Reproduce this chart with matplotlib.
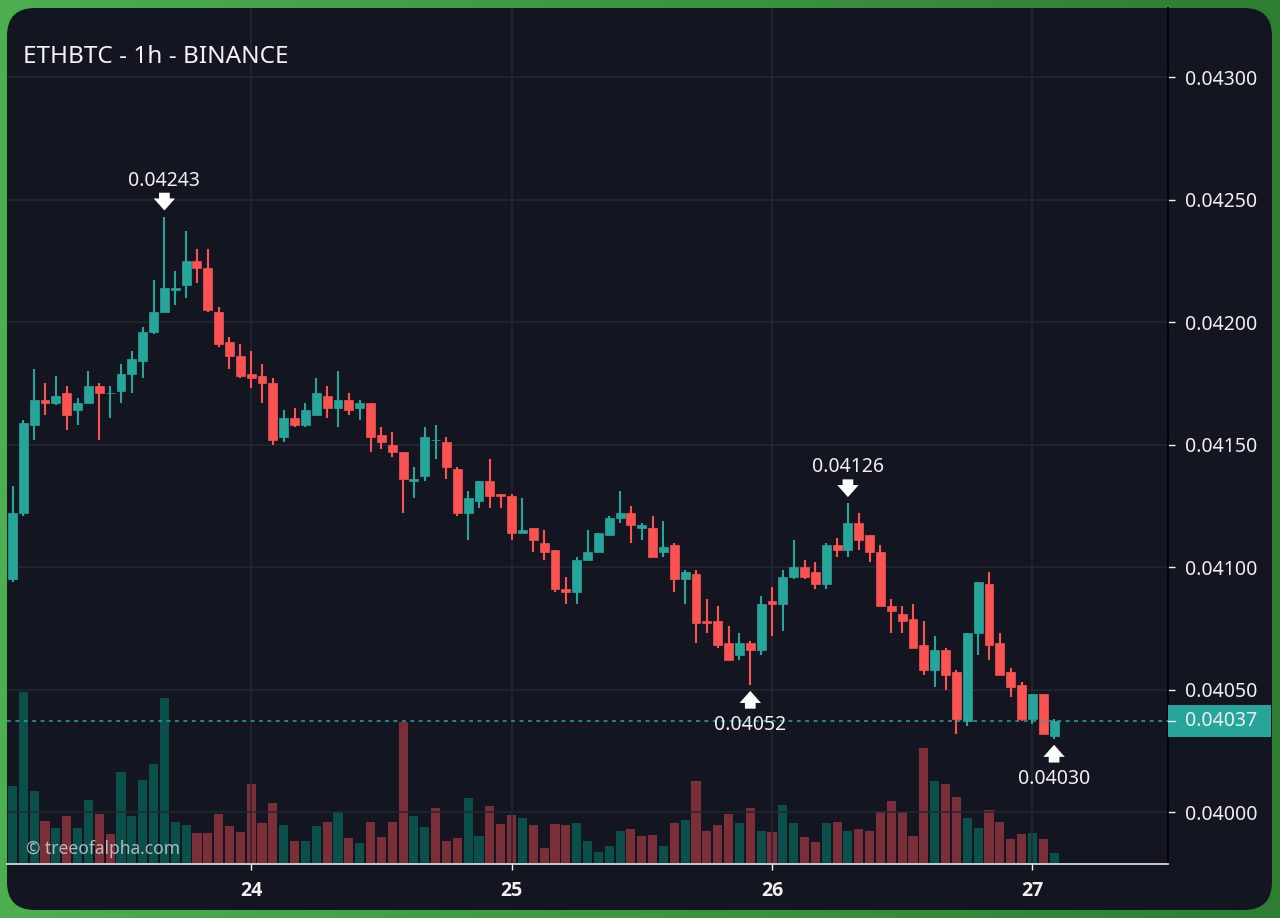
import matplotlib
matplotlib.use("Agg")
import matplotlib.pyplot as plt
import numpy as np
from matplotlib.patches import FancyBboxPatch, Rectangle

plt.rcParams['font.family'] = ['Noto Sans', 'DejaVu Sans']

# Prix en 1e-5 BTC, bougies 1h
opens = [4095, 4122, 4158, 4168, 4167, 4171, 4164, 4167, 4174, 4171,
         4172, 4179, 4184, 4196, 4204, 4213, 4215, 4225, 4222, 4204,
         4192, 4186, 4179, 4178, 4175, 4153, 4161, 4158, 4162, 4170,
         4165, 4168, 4165, 4167, 4154, 4150, 4147, 4135, 4137, 4152,
         4151, 4140, 4122, 4127, 4135, 4130, 4129, 4114, 4116, 4110,
         4107, 4091, 4090, 4103, 4106, 4113, 4120, 4122, 4116, 4116,
         4106, 4109, 4095, 4097, 4078, 4078, 4069, 4064, 4069, 4066,
         4086, 4085, 4096, 4100, 4098, 4093, 4109, 4107, 4118, 4113,
         4106, 4084, 4081, 4079, 4068, 4058, 4066, 4057, 4037, 4073,
         4093, 4069, 4057, 4052, 4038, 4048, 4031]
closes = [4122, 4159, 4168, 4167, 4170, 4162, 4167, 4174, 4171, 4171,
          4179, 4185, 4196, 4204, 4214, 4214, 4225, 4222, 4205, 4191,
          4186, 4178, 4177, 4175, 4152, 4161, 4158, 4164, 4171, 4165,
          4168, 4164, 4167, 4153, 4151, 4147, 4136, 4136, 4153, 4152,
          4141, 4122, 4128, 4135, 4129, 4129, 4114, 4115, 4111, 4106,
          4091, 4090, 4103, 4106, 4114, 4120, 4122, 4117, 4117, 4104,
          4108, 4095, 4098, 4077, 4077, 4068, 4062, 4069, 4066, 4085,
          4085, 4096, 4100, 4096, 4093, 4109, 4107, 4118, 4111, 4106,
          4084, 4082, 4078, 4067, 4058, 4066, 4056, 4038, 4073, 4094,
          4068, 4056, 4051, 4038, 4048, 4032, 4037]
highs = [4133, 4160, 4181, 4175, 4178, 4174, 4169, 4180, 4175, 4174,
         4183, 4188, 4198, 4217, 4243, 4221, 4237, 4230, 4230, 4206,
         4194, 4191, 4188, 4183, 4177, 4164, 4165, 4167, 4177, 4174,
         4180, 4171, 4168, 4167, 4157, 4155, 4147, 4141, 4157, 4158,
         4153, 4141, 4131, 4135, 4144, 4130, 4130, 4128, 4116, 4115,
         4107, 4096, 4104, 4115, 4114, 4121, 4131, 4125, 4118, 4121,
         4119, 4110, 4099, 4099, 4087, 4084, 4076, 4073, 4070, 4088,
         4092, 4099, 4111, 4103, 4102, 4110, 4112, 4126, 4122, 4113,
         4109, 4087, 4084, 4085, 4078, 4072, 4067, 4058, 4073, 4094,
         4098, 4073, 4059, 4053, 4048, 4048, 4038]
lows = [4094, 4121, 4152, 4162, 4166, 4156, 4158, 4167, 4152, 4161,
        4167, 4171, 4177, 4195, 4204, 4207, 4210, 4216, 4204, 4190,
        4181, 4177, 4173, 4167, 4150, 4151, 4157, 4157, 4162, 4161,
        4157, 4162, 4160, 4147, 4148, 4145, 4122, 4128, 4135, 4144,
        4136, 4121, 4111, 4124, 4124, 4124, 4111, 4114, 4106, 4103,
        4090, 4085, 4085, 4103, 4106, 4113, 4118, 4110, 4111, 4104,
        4104, 4090, 4085, 4069, 4073, 4067, 4062, 4062, 4052, 4064,
        4072, 4074, 4095, 4095, 4091, 4091, 4104, 4104, 4107, 4102,
        4084, 4073, 4073, 4067, 4056, 4051, 4050, 4032, 4035, 4064,
        4062, 4056, 4047, 4037, 4036, 4032, 4030]

# Volumes (unite arbitraire)
volumes = [77, 171, 72, 42, 35, 47, 35, 63, 49, 29,
           91, 47, 83, 99, 165, 41, 38, 30, 30, 49,
           37, 31, 79, 40, 60, 38, 22, 22, 37, 41,
           51, 25, 20, 41, 26, 41, 141, 47, 36, 55,
           22, 25, 65, 27, 57, 39, 48, 45, 38, 15,
           39, 38, 40, 22, 11, 17, 32, 34, 27, 28,
           17, 40, 43, 82, 32, 38, 49, 40, 55, 32,
           31, 58, 40, 26, 21, 40, 41, 32, 34, 32,
           52, 62, 51, 27, 115, 82, 79, 66, 45, 35,
           53, 41, 24, 29, 30, 24, 10]
vol_green = [0, 1, 2, 4, 6, 7, 10, 11, 12, 13, 14, 15, 16, 25, 27, 28, 30, 32,
             37, 38, 42, 43, 47, 52, 53, 54, 55, 56, 60, 62, 67, 69, 71, 72,
             75, 77, 85, 88, 89, 94, 96]

y_ticks = [4000, 4050, 4100, 4150, 4200, 4250, 4300]
day_labels = ['24', '25', '26', '27']
day_hours = [22, 46, 70, 94]
last_price = 4037
extremes = [(14, 4243, 'high'), (68, 4052, 'low'), (77, 4126, 'high'), (96, 4030, 'low')]

UP = '#26a69a'
DOWN = '#fb5252'
UP_VOL = '#0b4f4a'
DOWN_VOL = '#7a2e38'
PANEL = '#131620'
GRID = '#232733'
TEXT = '#eef0f0'

W, H = 1280, 918
fig = plt.figure(figsize=(W / 100, H / 100), dpi=100)

# Fond vert en degrade + panneau arrondi
bg = fig.add_axes([0, 0, 1, 1])
bg.set_xlim(0, W)
bg.set_ylim(H, 0)
bg.axis('off')
t = np.linspace(0, 1, 256).reshape(1, -1)
grad = np.zeros(t.shape + (3,))
for k, (c0, c1) in enumerate(zip((0x4c, 0xaf, 0x50), (0x2e, 0x7d, 0x32))):
    grad[..., k] = (c0 + (c1 - c0) * t) / 255
bg.imshow(grad, extent=(0, W, H, 0), aspect='auto', zorder=0)
bg.add_patch(FancyBboxPatch((7 + 28, 8 + 28), 1265 - 56, 902 - 56,
                            boxstyle='round,pad=28,rounding_size=28',
                            fc=PANEL, ec='none', zorder=1))

# Zone du graphique
left, right, top, bottom = 7, 1168, 8, 863.5
ax = fig.add_axes([left / W, 1 - bottom / H, (right - left) / W, (bottom - top) / H])
vol_ax = ax.twinx()
ax.set_zorder(vol_ax.get_zorder() + 1)
ax.patch.set_visible(False)
vol_ax.patch.set_visible(False)

hours = np.arange(len(opens))
o = np.array(opens) * 1e-5
c = np.array(closes) * 1e-5
h = np.array(highs) * 1e-5
l = np.array(lows) * 1e-5
is_up = c >= o

# Volumes
vol_colors = [UP_VOL if i in vol_green else DOWN_VOL for i in hours]
vol_ax.bar(hours, volumes, width=0.84, color=vol_colors, linewidth=0)
vol_ax.set_ylim(0, bottom - top)
vol_ax.axis('off')

# Bougies
colors = np.where(is_up, UP, DOWN)
ax.vlines(hours, l, h, colors=colors, linewidth=1.5, zorder=3)
ax.bar(hours, np.abs(c - o), bottom=np.minimum(o, c), width=0.82, color=colors,
       edgecolor=colors, linewidth=0.5, zorder=4)

ax.set_xlim(-0.507, 106.5)
ax.set_ylim(0.03979, 0.043282)

ax.set_axisbelow(True)
ax.grid(True, color=GRID, linewidth=1.1)
ax.set_xticks(day_hours)
ax.set_xticklabels(day_labels, fontsize=14, fontweight='bold', color=TEXT, family='Open Sans')
ax.set_yticks(np.array(y_ticks) * 1e-5)
ax.set_yticklabels([f'{v * 1e-5:.5f}' for v in y_ticks], fontsize=14, color=TEXT)
ax.yaxis.tick_right()
ax.tick_params(axis='y', length=5, width=1, color=TEXT, pad=7)
ax.tick_params(axis='x', length=4, width=1, color=TEXT, pad=8.5)

for name in ['left', 'top']:
    ax.spines[name].set_visible(False)
    vol_ax.spines[name].set_visible(False)
ax.spines['bottom'].set_color('#d6d8da')
ax.spines['bottom'].set_linewidth(1.3)
ax.spines['right'].set_color('#000000')
ax.spines['right'].set_linewidth(1.3)

# Dernier prix
p = last_price * 1e-5
ax.axhline(p, color=UP, linewidth=1.1, dashes=(2.5, 3), zorder=5)
ytrans = ax.get_yaxis_transform()
ax.add_patch(Rectangle((1.0, p - 6.5e-5), 103 / (right - left), 13e-5, transform=ytrans,
                       fc=UP, ec='none', clip_on=False, zorder=6))
ax.plot([1.0, 1.006], [p, p], transform=ytrans, color=TEXT, linewidth=1, clip_on=False, zorder=7)
ax.text((1185 - left) / (right - left), p, f'{p:.5f}', transform=ytrans, fontsize=14,
        color=TEXT, va='center', ha='left', zorder=8)

# Max / min locaux
for i, price, kind in extremes:
    sign = 1 if kind == 'high' else -1
    y = price * 1e-5
    ax.annotate('', xy=(i, y), xytext=(0, sign * 24), textcoords='offset pixels',
                arrowprops=dict(arrowstyle='simple,head_length=0.62,head_width=1.1,tail_width=0.55',
                                mutation_scale=14, fc='white', ec='none',
                                shrinkA=0, shrinkB=4.5), zorder=9)
    ax.annotate(f'{y:.5f}', xy=(i, y), xytext=(0, 36 if kind == 'high' else -40), textcoords='offset pixels',
                ha='center', va='center', fontsize=14, color=TEXT, zorder=9)

# Titre et filigrane
ax.text((23 - left) / (right - left), (bottom - 57) / (bottom - top), 'ETHBTC - 1h - BINANCE',
        transform=ax.transAxes, fontsize=17.5, color='#f2f4f4', va='center', ha='left')
ax.text((26 - left) / (right - left), (bottom - 849) / (bottom - top), '© treeofalpha.com',
        transform=ax.transAxes, fontsize=12.5, color='#d4d8dc', alpha=0.8, va='center', ha='left',
        zorder=10)

fig.savefig('out.png', dpi=100)
